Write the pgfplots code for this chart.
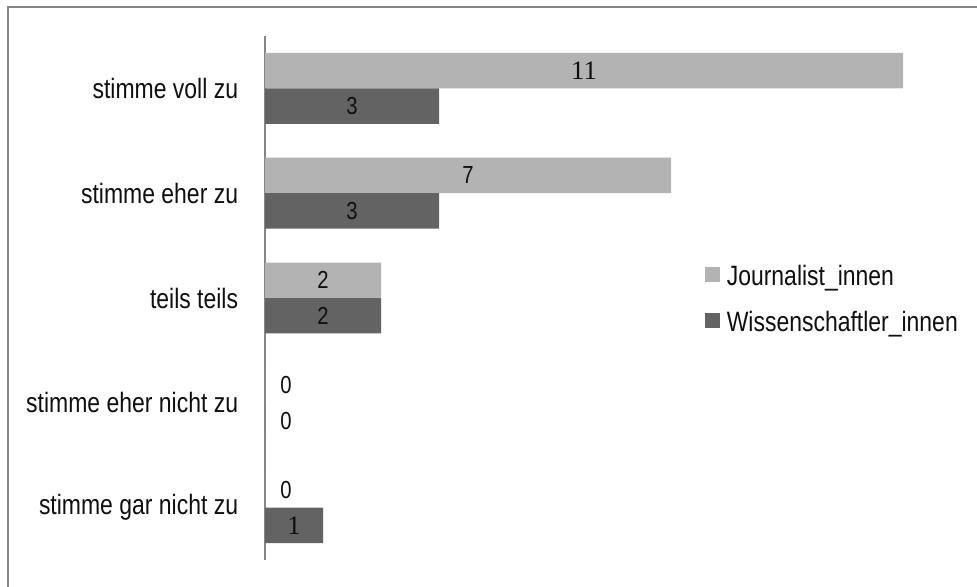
\documentclass[border=0pt]{standalone}
\usepackage{fontspec}
\IfFontExistsTF{Liberation Sans Narrow}
  {\setmainfont{Liberation Sans Narrow}}
  {\setmainfont[FakeStretch=0.82]{Liberation Sans}}
\newfontfamily\serifdigits{Liberation Serif}
\usepackage{pgfplots}
\pgfplotsset{compat=1.18}

\definecolor{journ}{RGB}{179,179,179}
\definecolor{wiss}{RGB}{99,99,99}
\definecolor{framegray}{RGB}{134,134,134}
\definecolor{txt}{RGB}{15,15,15}

\begin{document}
\begin{tikzpicture}
\useasboundingbox (0,0) rectangle (732.75pt,439.5pt);
% outer frame (open at right and bottom)
\draw[framegray, line width=1.2pt] (6pt,-2pt) -- (6pt,434.25pt) -- (740pt,434.25pt);
\begin{axis}[
  at={(198.75pt,19.5pt)}, anchor=south west,
  scale only axis, width=522pt, height=393pt,
  xmin=0, xmax=12, ymin=-0.5, ymax=4.5,
  xbar, bar width=26.6pt,
  axis x line=none,
  axis y line=left,
  y axis line style={-, draw=framegray, line width=1.4pt},
  ytick={0,1,2,3,4},
  yticklabels={stimme gar nicht zu, stimme eher nicht zu, teils teils, stimme eher zu, stimme voll zu},
  major tick length=0pt,
  tick style={draw=none},
  yticklabel style={font=\fontsize{21}{25}\selectfont, text=txt, inner sep=0pt, xshift=-20pt},
  point meta=explicit symbolic,
  nodes near coords={\pgfplotspointmeta},
  visualization depends on={rawx \as \rawx},
  every node near coord/.append style={anchor=center, inner sep=0pt,
    font=\fontsize{18.5}{22}\selectfont, text=txt,
    xshift={(\rawx==0)*15.75pt - 21.75pt*\rawx}},
  legend style={at={(axis description cs:0.632,0.569)}, anchor=north west,
    draw=none, fill=none, inner sep=0pt, row sep=14pt,
    font=\fontsize{21}{25}\selectfont, text=txt,
    nodes={inner sep=2pt},
    /tikz/every odd column/.append style={column sep=3pt}},
  legend cell align=left,
  legend image code/.code={\fill[#1, draw=none] (0pt,-4.5pt) rectangle (11.25pt,6.75pt);},
]
\addplot[fill=journ, draw=none, bar shift=13.3pt] coordinates {
  (11,4) [{\serifdigits\fontsize{20}{22}\selectfont 11}]
  (7,3)  [7]
  (2,2)  [2]
  (0,1)  [0]
  (0,0)  [0]
};
\addlegendentry{Journalist\_innen}
\addplot[fill=wiss, draw=none, bar shift=-13.3pt] coordinates {
  (3,4) [3]
  (3,3) [3]
  (2,2) [2]
  (0,1) [0]
  (1,0) [{\serifdigits\fontsize{20}{22}\selectfont 1}]
};
\addlegendentry{Wissenschaftler\_innen}
\end{axis}
\end{tikzpicture}
\end{document}
